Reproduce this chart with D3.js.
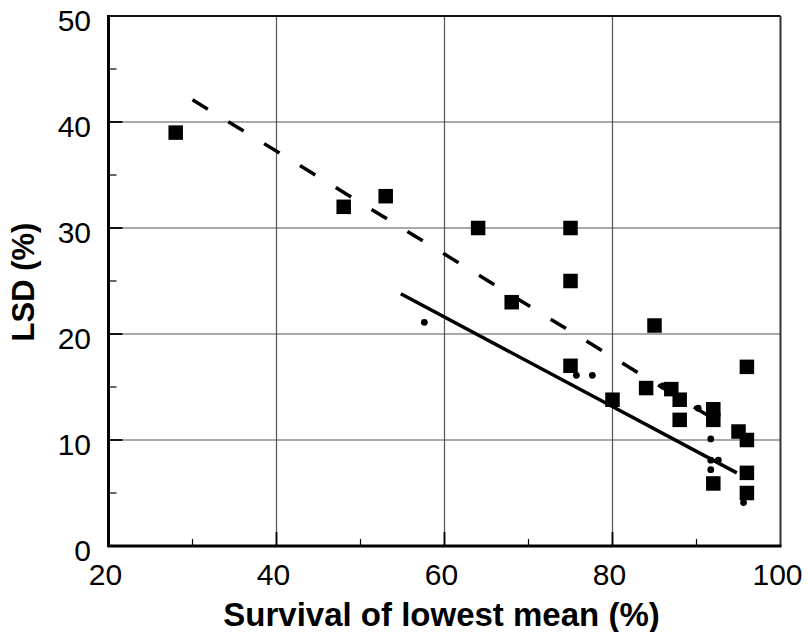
<!DOCTYPE html>
<html>
<head>
<meta charset="utf-8">
<script src="https://cdn.jsdelivr.net/npm/d3@7"></script>
<style>
  body { margin: 0; background: #fff; }
  svg { display: block; }
  text { font-family: "Liberation Sans", Arial, sans-serif; fill: #000; }
</style>
</head>
<body>
<svg id="chart" width="808" height="632"></svg>
<script>
// LSD vs survival of the lowest mean: squares, small dots and two fitted lines

// squares (survival %, LSD %)
const squareX = [28, 48, 53, 64, 75, 75, 68, 75, 80, 85, 84, 87, 88, 88, 92, 92, 92, 95, 96, 96, 96, 96];
const squareY = [39, 32, 33, 30, 30, 25, 23, 17, 13.8, 20.8, 14.9, 14.8, 13.8, 11.9, 12.9, 11.9, 5.9, 10.8, 10, 16.9, 6.9, 5];

// small dots
const dotX = [57.6, 75.7, 77.6, 86.0, 90.2, 91.7, 91.7, 92.6, 91.7, 95.6];
const dotY = [21.1, 16.1, 16.1, 15.1, 13.0, 10.1, 8.1, 8.1, 7.2, 4.1];

// fitted lines: [start, end]
const solidLine = [[54.8, 23.8], [94.8, 6.9]];
const dashedLine = [[30, 42.1], [92, 12.0]];

// axis ticks
const xMajor = [20, 40, 60, 80, 100];
const xMinor = [30, 50, 70, 90];
const yMajor = [0, 10, 20, 30, 40, 50];
const yMinor = [5, 15, 25, 35, 45];

const svg = d3.select("#chart");
const m = { left: 108.5, right: 780.5, top: 16, bottom: 546 };

const x = d3.scaleLinear().domain([20, 100]).range([m.left, m.right]);
const y = d3.scaleLinear().domain([0, 50]).range([m.bottom, m.top]);

// grid
const grid = svg.append("g");
grid.selectAll(".gx").data(xMajor.slice(1, -1)).join("line")
  .attr("x1", d => x(d)).attr("x2", d => x(d))
  .attr("y1", m.top).attr("y2", m.bottom)
  .attr("stroke", "#555").attr("stroke-width", 1.2);
grid.selectAll(".gy").data(yMajor.slice(1, -1)).join("line")
  .attr("x1", m.left).attr("x2", m.right)
  .attr("y1", d => y(d)).attr("y2", d => y(d))
  .attr("stroke", "#555").attr("stroke-width", 1.2);

// ticks (inside the plot)
const ticks = svg.append("g").attr("stroke", "#000");
ticks.selectAll(".ym").data(yMinor).join("line")
  .attr("x1", m.left).attr("x2", m.left + 8)
  .attr("y1", d => y(d)).attr("y2", d => y(d)).attr("stroke-width", 1.2);
ticks.selectAll(".yM").data(yMajor.slice(1, -1)).join("line")
  .attr("x1", m.left).attr("x2", m.left + 14)
  .attr("y1", d => y(d)).attr("y2", d => y(d)).attr("stroke-width", 1.8);
ticks.selectAll(".xm").data(xMinor).join("line")
  .attr("x1", d => x(d)).attr("x2", d => x(d))
  .attr("y1", m.bottom).attr("y2", m.bottom - 7).attr("stroke-width", 1.2);
ticks.selectAll(".xM").data(xMajor.slice(1, -1)).join("line")
  .attr("x1", d => x(d)).attr("x2", d => x(d))
  .attr("y1", m.bottom).attr("y2", m.bottom - 14).attr("stroke-width", 1.8);

// frame
svg.append("line").attr("x1", m.left).attr("x2", m.right).attr("y1", m.top).attr("y2", m.top)
  .attr("stroke", "#111").attr("stroke-width", 2);
svg.append("line").attr("x1", m.right).attr("x2", m.right).attr("y1", m.top).attr("y2", m.bottom)
  .attr("stroke", "#333").attr("stroke-width", 2);
svg.append("line").attr("x1", m.left).attr("x2", m.left).attr("y1", m.top - 1).attr("y2", m.bottom + 1)
  .attr("stroke", "#000").attr("stroke-width", 3);
svg.append("line").attr("x1", m.left - 1).attr("x2", m.right + 1).attr("y1", m.bottom).attr("y2", m.bottom)
  .attr("stroke", "#000").attr("stroke-width", 3);

// tick labels
svg.append("g").selectAll("text").data(yMajor).join("text")
  .attr("x", 91).attr("y", d => y(d) + 14.5)
  .attr("text-anchor", "end").attr("font-size", 30)
  .text(d => d);
svg.append("g").selectAll("text").data(xMajor).join("text")
  .attr("x", d => x(d) - 3).attr("y", 585)
  .attr("text-anchor", "middle").attr("font-size", 30)
  .text(d => d);

// axis titles
svg.append("text")
  .attr("x", (m.left + m.right) / 2 - 3).attr("y", 626)
  .attr("text-anchor", "middle").attr("font-size", 33).attr("font-weight", "bold")
  .text("Survival of lowest mean (%)");
svg.append("text")
  .attr("transform", `translate(34,${(m.top + m.bottom) / 2 + 1}) rotate(-90)`)
  .attr("text-anchor", "middle").attr("font-size", 31).attr("font-weight", "bold")
  .text("LSD (%)");

// fitted lines
const line = d3.line().x(d => x(d[0])).y(d => y(d[1]));
svg.append("path").attr("d", line(dashedLine))
  .attr("fill", "none").attr("stroke", "#000").attr("stroke-width", 3.5)
  .attr("stroke-dasharray", "18,24");
svg.append("path").attr("d", line(solidLine))
  .attr("fill", "none").attr("stroke", "#000").attr("stroke-width", 3.5);

// markers
const sq = 14.5;
svg.append("g").selectAll("rect").data(d3.range(squareX.length)).join("rect")
  .attr("x", i => x(squareX[i]) - sq / 2).attr("y", i => y(squareY[i]) - sq / 2)
  .attr("width", sq).attr("height", sq).attr("fill", "#000");
svg.append("g").selectAll("circle").data(d3.range(dotX.length)).join("circle")
  .attr("cx", i => x(dotX[i])).attr("cy", i => y(dotY[i]))
  .attr("r", 3.4).attr("fill", "#000");
</script>
</body>
</html>
